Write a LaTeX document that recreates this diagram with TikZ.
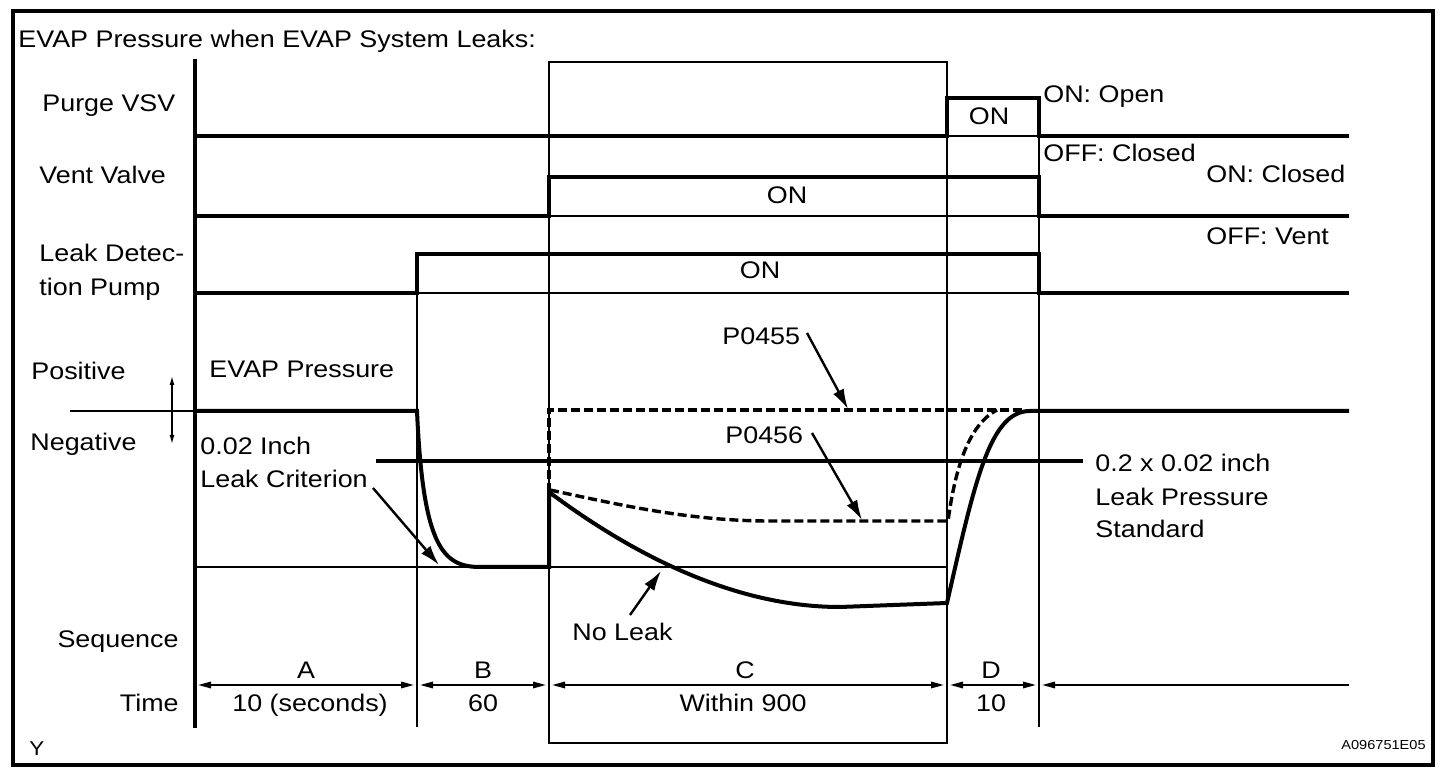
\documentclass[tikz,border=0pt]{standalone}
\usepackage{fontspec}
\setmainfont{Liberation Sans}[FakeStretch=1.12]
\usetikzlibrary{arrows.meta}
\begin{document}
\begin{tikzpicture}[x=0.5pt,y=-0.5pt,
  lbl/.style={inner sep=0pt, font=\fontsize{12}{14}\selectfont},
  sig/.style={line width=2pt, line join=miter},
  thin/.style={line width=0.75pt},
  dashline/.style={line width=1.7pt, dash pattern=on 4.5pt off 2pt},
  callout/.style={line width=1.2pt, -{Latex[length=10pt,width=6pt]}},
  timearrow/.style={line width=1.4pt, {Triangle[length=7pt,width=3pt]}-{Triangle[length=7pt,width=3pt]}, shorten <=1pt, shorten >=1pt},
  timeleft/.style={line width=1.4pt, -{Triangle[length=7pt,width=3pt]}, shorten >=1pt},
]
\useasboundingbox (0,0) rectangle (1456,774);
% frame
\draw[line width=1.8pt] (13,11) rectangle (1433,765);
\node[lbl, anchor=base west] (title) at (18,48) {EVAP Pressure when EVAP System Leaks:};

% axis
\draw[sig] (195,59) -- (195,728);

% thin grid
\draw[thin] (549,62) rectangle (947,743);
\draw[thin] (417,293) -- (417,727);
\draw[thin] (1039,136) -- (1039,727);
\draw[thin] (947,136) -- (1039,136);
\draw[thin] (549,216) -- (1039,216);
\draw[thin] (417,293) -- (1039,293);
\draw[thin] (70,411) -- (195,411);
\draw[thin] (195,567) -- (947,567);

% signals
\draw[sig] (195,136) -- (947,136) -- (947,98) -- (1039,98) -- (1039,136) -- (1349,136);
\draw[sig] (195,216) -- (549,216) -- (549,177) -- (1039,177) -- (1039,216) -- (1349,216);
\draw[sig] (195,293) -- (417,293) -- (417,254) -- (1039,254) -- (1039,293) -- (1349,293);

% labels left
\node[lbl, anchor=base west] (purge) at (42,112) {Purge VSV};
\node[lbl, anchor=base west] (vent) at (39,184) {Vent Valve};
\node[lbl, anchor=base west] (pump1) at (39,262) {Leak Detec-};
\node[lbl, anchor=base west] (pump2) at (39,296) {tion Pump};
\node[lbl, anchor=base west] (pos) at (31,380) {Positive};
\node[lbl, anchor=base west] (neg) at (30,451) {Negative};
\node[lbl, anchor=base east] (seq) at (179,647) {Sequence};
\node[lbl, anchor=base east] (time) at (179,711) {Time};

% ON labels
\node[lbl, anchor=base] (onp) at (989,125) {ON};
\node[lbl, anchor=base] (onv) at (787,204) {ON};
\node[lbl, anchor=base] (onl) at (760,279) {ON};

% right labels
\node[lbl, anchor=base west] (onopen) at (1043,103) {ON: Open};
\node[lbl, anchor=base west] (offclosed) at (1043,162) {OFF: Closed};
\node[lbl, anchor=base west] (onclosed) at (1206,183) {ON: Closed};
\node[lbl, anchor=base west] (offvent) at (1206,245) {OFF: Vent};

% pressure
\coordinate (pn1) at (172,375);
\coordinate (pn2) at (172,445);
\draw[line width=0.9pt, {Latex[length=5pt,width=2.5pt]}-{Latex[length=5pt,width=2.5pt]}] (pn1) -- (pn2);
\node[lbl, anchor=base west] (evap) at (209,378) {EVAP Pressure};
\node[lbl, anchor=base west] (crit1) at (200,455) {0.02 Inch};
\node[lbl, anchor=base west] (crit2) at (200,488) {Leak Criterion};

% standard line
\draw[line width=1.8pt] (376,461) -- (1083,461);
\node[lbl, anchor=base west] (std1) at (1095,472) {0.2 x 0.02 inch};
\node[lbl, anchor=base west] (std2) at (1095,506) {Leak Pressure};
\node[lbl, anchor=base west] (std3) at (1095,538) {Standard};

% pressure curves
\draw[sig] (195,411) -- (417,411) .. controls (423,545) and (442,567) .. (480,567) -- (549,567) -- (549,492)
  .. controls (640,560) and (740,607) .. (840,607) -- (947,603)
  .. controls (975,480) and (990,411) .. (1030,411) -- (1349,411);
\draw[dashline] (549,492) -- (549,410) -- (1024,410);
\draw[dashline] (550,490) .. controls (620,505) and (690,521) .. (770,521) -- (948,521)
  .. controls (955,470) and (968,425) .. (997,410);

% callouts
\node[lbl, anchor=base west] (p55) at (722,345) {P0455};
\node[lbl, anchor=base west] (p56) at (725,444) {P0456};
\node[lbl, anchor=base west] (nol) at (572,640) {No Leak};
\coordinate (p55s) at (807,333);
\coordinate (p55t) at (848,409);
\coordinate (p56s) at (812,433);
\coordinate (p56t) at (862,520);
\coordinate (nols) at (630,615);
\coordinate (nolt) at (661,571);
\coordinate (crs) at (373,488);
\coordinate (crt) at (439,565);
\draw[callout] (p55s) -- (p55t);
\draw[callout] (p56s) -- (p56t);
\draw[callout] (nols) -- (nolt);
\draw[callout] (crs) -- (crt);

% time
\coordinate (t0) at (195,685);
\coordinate (t1) at (417,685);
\coordinate (t2) at (549,685);
\coordinate (t3) at (947,685);
\coordinate (t4) at (1039,685);
\coordinate (t5) at (1349,685);
\draw[timearrow] (t0) -- (t1);
\draw[timearrow] (t1) -- (t2);
\draw[timearrow] (t2) -- (t3);
\draw[timearrow] (t3) -- (t4);
\draw[timeleft] (t5) -- (t4);
\node[lbl, anchor=base] (sa) at (306,678) {A};
\node[lbl, anchor=base] (sb) at (483,678) {B};
\node[lbl, anchor=base] (sc) at (745,678) {C};
\node[lbl, anchor=base] (sd) at (991,678) {D};
\node[lbl, anchor=base] (ta) at (310,711) {10 (seconds)};
\node[lbl, anchor=base] (tb) at (483,711) {60};
\node[lbl, anchor=base] (tc) at (743,711) {Within 900};
\node[lbl, anchor=base] (td) at (991,711) {10};

\node[inner sep=0pt, font=\fontsize{10}{12}\selectfont, anchor=base west] (yl) at (29,755) {Y};
\node[inner sep=0pt, font=\fontsize{6.5}{8}\selectfont, anchor=base east] (code) at (1426,749) {A096751E05};
\end{tikzpicture}
\end{document}
